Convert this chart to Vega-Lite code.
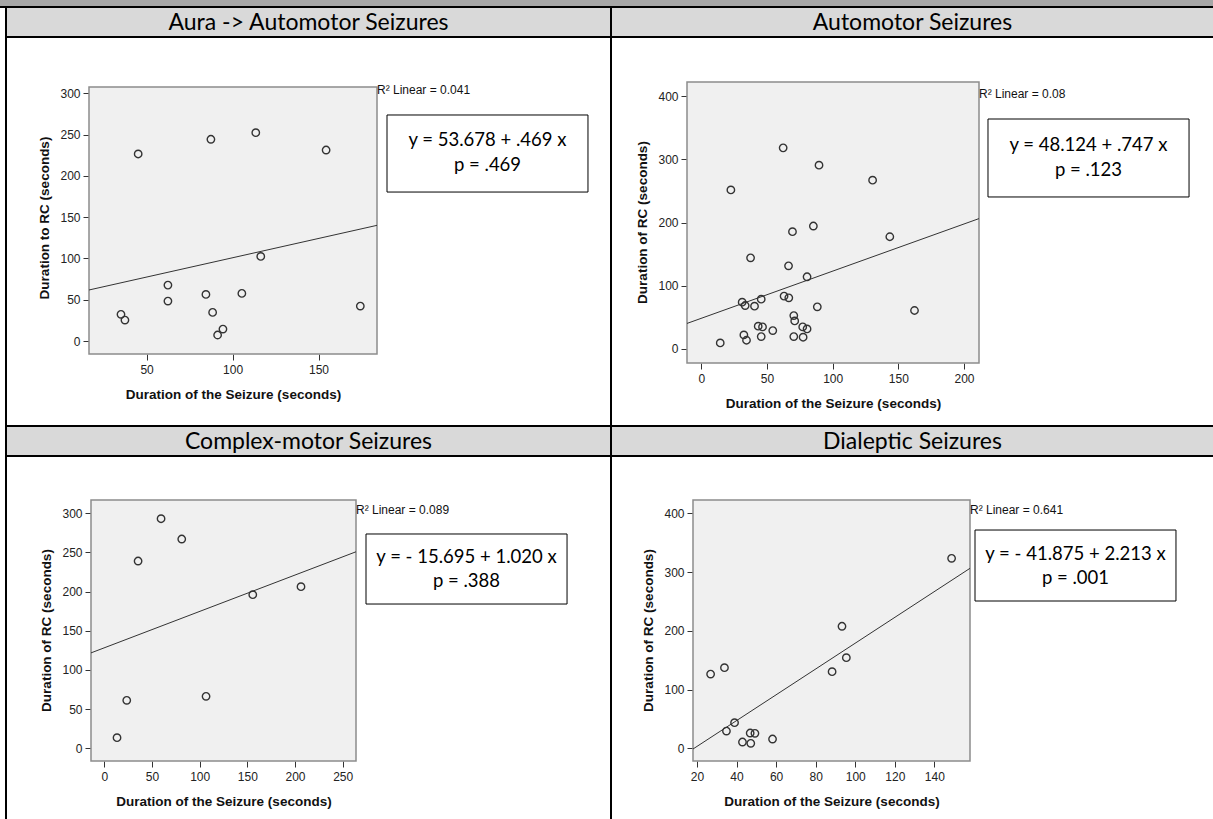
{
  "$schema": "https://vega.github.io/schema/vega-lite/v6.json",
  "padding": 0,
  "background": "white",
  "data": {"values": [{}]},
  "datasets": {
    "p1": [
      {"x": 35.1, "y": 32.3}, {"x": 37.4, "y": 25.4}, {"x": 45.1, "y": 226.5}, {"x": 62.4, "y": 67.7},
      {"x": 62.4, "y": 48.4}, {"x": 84.5, "y": 56.4}, {"x": 87.4, "y": 244.3}, {"x": 88.4, "y": 34.7},
      {"x": 91.3, "y": 7.3}, {"x": 94.4, "y": 14.5}, {"x": 105.4, "y": 57.7}, {"x": 113.5, "y": 252.3},
      {"x": 116.4, "y": 102.4}, {"x": 154.4, "y": 231.3}, {"x": 174.3, "y": 42.3}
    ],
    "p2": [
      {"x": 14.4, "y": 8.9}, {"x": 22.5, "y": 251.7}, {"x": 31.1, "y": 73.6}, {"x": 32.4, "y": 21.6},
      {"x": 33.4, "y": 68.3}, {"x": 34.4, "y": 13.2}, {"x": 37.5, "y": 144}, {"x": 40.5, "y": 67.2},
      {"x": 43.3, "y": 35.5}, {"x": 45.6, "y": 78.4}, {"x": 45.6, "y": 19}, {"x": 46.6, "y": 34.4},
      {"x": 54.4, "y": 28.6}, {"x": 62.3, "y": 318.4}, {"x": 63, "y": 83.2}, {"x": 66.6, "y": 80.5},
      {"x": 66.4, "y": 131.3}, {"x": 69.4, "y": 185.4}, {"x": 70.4, "y": 52.4}, {"x": 71.1, "y": 43.9},
      {"x": 70.4, "y": 19}, {"x": 77.2, "y": 34.4}, {"x": 77.5, "y": 18}, {"x": 80.5, "y": 31.2},
      {"x": 80.5, "y": 113.9}, {"x": 85.3, "y": 194.4}, {"x": 88.3, "y": 66.2}, {"x": 89.6, "y": 290.9},
      {"x": 130.4, "y": 267.1}, {"x": 143.5, "y": 177.4}, {"x": 162.3, "y": 60.4}
    ],
    "p3": [
      {"x": 13.3, "y": 13.6}, {"x": 23.5, "y": 61.3}, {"x": 35.4, "y": 239.1}, {"x": 59.5, "y": 293.1},
      {"x": 81.2, "y": 267.2}, {"x": 106.7, "y": 66.4}, {"x": 155.7, "y": 196.1}, {"x": 206.3, "y": 206.3}
    ],
    "p4": [
      {"x": 26.9, "y": 126.4}, {"x": 33.9, "y": 137.2}, {"x": 34.9, "y": 29.4}, {"x": 39, "y": 43.6},
      {"x": 43, "y": 10.7}, {"x": 46.9, "y": 26}, {"x": 47.2, "y": 8.5}, {"x": 49.3, "y": 25.5},
      {"x": 58.2, "y": 15.8}, {"x": 88.3, "y": 130.4}, {"x": 93.3, "y": 207.7}, {"x": 95.5, "y": 154.2},
      {"x": 148.7, "y": 323.4}
    ]
  },
  "config": {
    "view": {"stroke": null},
    "concat": {"spacing": 0},
    "axis": {"domain": false, "grid": false, "tickColor": "#333333", "tickSize": 6, "labelFlush": false, "labelOverlap": false,
      "labelFont": "Liberation Sans", "labelFontSize": 12, "labelColor": "#222222",
      "titleFont": "Liberation Sans", "titleFontSize": 13.5, "titleFontWeight": "bold", "titleColor": "#111111"},
    "axisX": {"labelPadding": 4, "titlePadding": 12},
    "axisY": {"labelPadding": 3, "titlePadding": 8}
  },
  "spacing": 0,
  "vconcat": [
    {"width": 1213, "height": 6, "view": {"fill": "#a6a6a6"}, "mark": {"type": "point", "size": 0, "opacity": 0}},
    {"width": 1213, "height": 2, "view": {"fill": "black"}, "mark": {"type": "point", "size": 0, "opacity": 0}},
    {"hconcat": [
      {"width": 5, "height": 28, "mark": {"type": "point", "size": 0, "opacity": 0}},
      {"width": 2, "height": 28, "view": {"fill": "black"}, "mark": {"type": "point", "size": 0, "opacity": 0}},
      {"width": 603, "height": 28, "view": {"fill": "#d9d9d9"}, "data": {"values": [{"t": "Aura -> Automotor Seizures"}]},
        "mark": {"type": "text", "font": "Lato", "fontSize": 23, "color": "black", "baseline": "middle", "dy": 1}, "encoding": {"text": {"field": "t"}}},
      {"width": 2, "height": 28, "view": {"fill": "black"}, "mark": {"type": "point", "size": 0, "opacity": 0}},
      {"width": 601, "height": 28, "view": {"fill": "#d9d9d9"}, "data": {"values": [{"t": "Automotor Seizures"}]},
        "mark": {"type": "text", "font": "Lato", "fontSize": 23, "color": "black", "baseline": "middle", "dy": 1}, "encoding": {"text": {"field": "t"}}}
    ], "spacing": 0, "bounds": "flush"},
    {"hconcat": [
      {"width": 5, "height": 2, "mark": {"type": "point", "size": 0, "opacity": 0}},
      {"width": 1208, "height": 2, "view": {"fill": "black"}, "mark": {"type": "point", "size": 0, "opacity": 0}}
    ], "spacing": 0, "bounds": "flush"},
    {"hconcat": [
      {"width": 5, "height": 43, "mark": {"type": "point", "size": 0, "opacity": 0}},
      {"width": 2, "height": 43, "view": {"fill": "black"}, "mark": {"type": "point", "size": 0, "opacity": 0}},
      {"width": 603, "height": 43, "mark": {"type": "point", "size": 0, "opacity": 0}},
      {"width": 2, "height": 43, "view": {"fill": "black"}, "mark": {"type": "point", "size": 0, "opacity": 0}}
    ], "spacing": 0, "bounds": "flush"},
    {"hconcat": [
      {"width": 5, "height": 1, "mark": {"type": "point", "size": 0, "opacity": 0}},
      {"width": 2, "height": 344, "view": {"fill": "black"}, "mark": {"type": "point", "size": 0, "opacity": 0}},
      {"width": 82, "height": 1, "mark": {"type": "point", "size": 0, "opacity": 0}},
      {"width": 288, "height": 273,
        "layer": [
          {"mark": {"type": "rect", "fill": "#f0f0f0", "stroke": "#8c8c8c", "strokeWidth": 1.5},
            "encoding": {"x": {"datum": 16.5}, "x2": {"datum": 184}, "y": {"datum": -15.7}, "y2": {"datum": 307.6}}},
          {"data": {"name": "p1"},
            "mark": {"type": "point", "shape": "circle", "filled": false, "size": 55, "color": "#333333", "strokeWidth": 1.4, "opacity": 1},
            "encoding": {
              "x": {"field": "x", "type": "quantitative", "title": "Duration of the Seizure (seconds)", "scale": {"domain": [16.5, 184], "nice": false, "zero": false}, "axis": {"values": [50, 100, 150]}},
              "y": {"field": "y", "type": "quantitative", "title": "Duration to RC (seconds)", "scale": {"domain": [-15.7, 314.86], "nice": false, "zero": false}, "axis": {"values": [0, 50, 100, 150, 200, 250, 300]}}}},
          {"data": {"name": "p1"},
            "transform": [{"regression": "y", "on": "x", "extent": [16.5, 184]}],
            "mark": {"type": "line", "color": "#333333", "strokeWidth": 1},
            "encoding": {
              "x": {"field": "x", "type": "quantitative", "title": "Duration of the Seizure (seconds)"},
              "y": {"field": "y", "type": "quantitative", "title": "Duration to RC (seconds)"}}},
          {"data": {"values": [{"label": "R² Linear = 0.041"}]},
            "mark": {"type": "text", "align": "left", "baseline": "middle", "font": "Liberation Sans", "fontSize": 12, "color": "#111111"},
            "encoding": {"x": {"datum": 184}, "y": {"datum": 304}, "text": {"field": "label"}}},
          {"mark": {"type": "rect", "fill": "white", "stroke": "black", "strokeWidth": 1},
            "encoding": {"x": {"datum": 189.82}, "x2": {"datum": 306.7}, "y": {"datum": 180.4}, "y2": {"datum": 273.7}}},
          {"data": {"values": [{"t": "y = 53.678 + .469 x\np = .469"}]},
            "mark": {"type": "text", "font": "Lato", "fontSize": 18.5, "lineBreak": "\n", "lineHeight": 25, "baseline": "middle", "align": "center", "color": "black", "dy": -13},
            "encoding": {"x": {"datum": 248.27}, "y": {"datum": 227.1}, "text": {"field": "t"}}}
        ]},
      {"width": 233, "height": 1, "mark": {"type": "point", "size": 0, "opacity": 0}},
      {"width": 2, "height": 344, "view": {"fill": "black"}, "mark": {"type": "point", "size": 0, "opacity": 0}},
      {"width": 75, "height": 1, "mark": {"type": "point", "size": 0, "opacity": 0}},
      {"width": 292, "height": 282,
        "layer": [
          {"mark": {"type": "rect", "fill": "#f0f0f0", "stroke": "#8c8c8c", "strokeWidth": 1.5},
            "encoding": {"x": {"datum": -10.9}, "x2": {"datum": 211.4}, "y": {"datum": -22.9}, "y2": {"datum": 422.9}}},
          {"data": {"name": "p2"},
            "mark": {"type": "point", "shape": "circle", "filled": false, "size": 55, "color": "#333333", "strokeWidth": 1.4, "opacity": 1},
            "encoding": {
              "x": {"field": "x", "type": "quantitative", "title": "Duration of the Seizure (seconds)", "scale": {"domain": [-10.9, 211.4], "nice": false, "zero": false}, "axis": {"values": [0, 50, 100, 150, 200]}},
              "y": {"field": "y", "type": "quantitative", "title": "Duration of RC (seconds)", "scale": {"domain": [-22.9, 424.49], "nice": false, "zero": false}, "axis": {"values": [0, 100, 200, 300, 400]}}}},
          {"data": {"name": "p2"},
            "transform": [{"regression": "y", "on": "x", "extent": [-10.9, 211.4]}],
            "mark": {"type": "line", "color": "#333333", "strokeWidth": 1},
            "encoding": {
              "x": {"field": "x", "type": "quantitative", "title": "Duration of the Seizure (seconds)"},
              "y": {"field": "y", "type": "quantitative", "title": "Duration of RC (seconds)"}}},
          {"data": {"values": [{"label": "R² Linear = 0.08"}]},
            "mark": {"type": "text", "align": "left", "baseline": "middle", "font": "Liberation Sans", "fontSize": 12, "color": "#111111"},
            "encoding": {"x": {"datum": 211.4}, "y": {"datum": 403.9}, "text": {"field": "label"}}},
          {"mark": {"type": "rect", "fill": "white", "stroke": "black", "strokeWidth": 1},
            "encoding": {"x": {"datum": 218.25}, "x2": {"datum": 371.3}, "y": {"datum": 240.5}, "y2": {"datum": 364.2}}},
          {"data": {"values": [{"t": "y = 48.124 + .747 x\np = .123"}]},
            "mark": {"type": "text", "font": "Lato", "fontSize": 18.5, "lineBreak": "\n", "lineHeight": 25, "baseline": "middle", "align": "center", "color": "black", "dy": -13},
            "encoding": {"x": {"datum": 294.76}, "y": {"datum": 302.3}, "text": {"field": "t"}}}
        ]}
    ], "spacing": 0, "bounds": "flush"},
    {"hconcat": [
      {"width": 5, "height": 2, "mark": {"type": "point", "size": 0, "opacity": 0}},
      {"width": 1208, "height": 2, "view": {"fill": "black"}, "mark": {"type": "point", "size": 0, "opacity": 0}}
    ], "spacing": 0, "bounds": "flush"},
    {"hconcat": [
      {"width": 5, "height": 28, "mark": {"type": "point", "size": 0, "opacity": 0}},
      {"width": 2, "height": 28, "view": {"fill": "black"}, "mark": {"type": "point", "size": 0, "opacity": 0}},
      {"width": 603, "height": 28, "view": {"fill": "#d9d9d9"}, "data": {"values": [{"t": "Complex-motor Seizures"}]},
        "mark": {"type": "text", "font": "Lato", "fontSize": 23, "color": "black", "baseline": "middle", "dy": 1}, "encoding": {"text": {"field": "t"}}},
      {"width": 2, "height": 28, "view": {"fill": "black"}, "mark": {"type": "point", "size": 0, "opacity": 0}},
      {"width": 601, "height": 28, "view": {"fill": "#d9d9d9"}, "data": {"values": [{"t": "Dialeptic Seizures"}]},
        "mark": {"type": "text", "font": "Lato", "fontSize": 23, "color": "black", "baseline": "middle", "dy": 1}, "encoding": {"text": {"field": "t"}}}
    ], "spacing": 0, "bounds": "flush"},
    {"hconcat": [
      {"width": 5, "height": 2, "mark": {"type": "point", "size": 0, "opacity": 0}},
      {"width": 1208, "height": 2, "view": {"fill": "black"}, "mark": {"type": "point", "size": 0, "opacity": 0}}
    ], "spacing": 0, "bounds": "flush"},
    {"hconcat": [
      {"width": 5, "height": 42, "mark": {"type": "point", "size": 0, "opacity": 0}},
      {"width": 2, "height": 42, "view": {"fill": "black"}, "mark": {"type": "point", "size": 0, "opacity": 0}},
      {"width": 603, "height": 42, "mark": {"type": "point", "size": 0, "opacity": 0}},
      {"width": 2, "height": 42, "view": {"fill": "black"}, "mark": {"type": "point", "size": 0, "opacity": 0}}
    ], "spacing": 0, "bounds": "flush"},
    {"hconcat": [
      {"width": 5, "height": 1, "mark": {"type": "point", "size": 0, "opacity": 0}},
      {"width": 2, "height": 320, "view": {"fill": "black"}, "mark": {"type": "point", "size": 0, "opacity": 0}},
      {"width": 84, "height": 1, "mark": {"type": "point", "size": 0, "opacity": 0}},
      {"width": 265, "height": 262,
        "layer": [
          {"mark": {"type": "rect", "fill": "#f0f0f0", "stroke": "#8c8c8c", "strokeWidth": 1.5},
            "encoding": {"x": {"datum": -14}, "x2": {"datum": 264}, "y": {"datum": -16.2}, "y2": {"datum": 317}}},
          {"data": {"name": "p3"},
            "mark": {"type": "point", "shape": "circle", "filled": false, "size": 55, "color": "#333333", "strokeWidth": 1.4, "opacity": 1},
            "encoding": {
              "x": {"field": "x", "type": "quantitative", "title": "Duration of the Seizure (seconds)", "scale": {"domain": [-14, 264], "nice": false, "zero": false}, "axis": {"values": [0, 50, 100, 150, 200, 250]}},
              "y": {"field": "y", "type": "quantitative", "title": "Duration of RC (seconds)", "scale": {"domain": [-16.2, 318.28], "nice": false, "zero": false}, "axis": {"values": [0, 50, 100, 150, 200, 250, 300]}}}},
          {"data": {"name": "p3"},
            "transform": [{"regression": "y", "on": "x", "extent": [-14, 264]}],
            "mark": {"type": "line", "color": "#333333", "strokeWidth": 1},
            "encoding": {
              "x": {"field": "x", "type": "quantitative", "title": "Duration of the Seizure (seconds)"},
              "y": {"field": "y", "type": "quantitative", "title": "Duration of RC (seconds)"}}},
          {"data": {"values": [{"label": "R² Linear = 0.089"}]},
            "mark": {"type": "text", "align": "left", "baseline": "middle", "font": "Liberation Sans", "fontSize": 12, "color": "#111111"},
            "encoding": {"x": {"datum": 264}, "y": {"datum": 304.2}, "text": {"field": "label"}}},
          {"mark": {"type": "rect", "fill": "white", "stroke": "black", "strokeWidth": 1},
            "encoding": {"x": {"datum": 274.5}, "x2": {"datum": 485.4}, "y": {"datum": 184.2}, "y2": {"datum": 273.6}}},
          {"data": {"values": [{"t": "y = - 15.695 + 1.020 x\np = .388"}]},
            "mark": {"type": "text", "font": "Lato", "fontSize": 18.5, "lineBreak": "\n", "lineHeight": 24, "baseline": "middle", "align": "center", "color": "black", "dy": -12},
            "encoding": {"x": {"datum": 379.9}, "y": {"datum": 228.9}, "text": {"field": "t"}}}
        ]},
      {"width": 254, "height": 1, "mark": {"type": "point", "size": 0, "opacity": 0}},
      {"width": 2, "height": 320, "view": {"fill": "black"}, "mark": {"type": "point", "size": 0, "opacity": 0}},
      {"width": 81, "height": 1, "mark": {"type": "point", "size": 0, "opacity": 0}},
      {"width": 277, "height": 262,
        "layer": [
          {"mark": {"type": "rect", "fill": "#f0f0f0", "stroke": "#8c8c8c", "strokeWidth": 1.5},
            "encoding": {"x": {"datum": 18}, "x2": {"datum": 158}, "y": {"datum": -21.6}, "y2": {"datum": 422.6}}},
          {"data": {"name": "p4"},
            "mark": {"type": "point", "shape": "circle", "filled": false, "size": 55, "color": "#333333", "strokeWidth": 1.4, "opacity": 1},
            "encoding": {
              "x": {"field": "x", "type": "quantitative", "title": "Duration of the Seizure (seconds)", "scale": {"domain": [18, 158], "nice": false, "zero": false}, "axis": {"values": [20, 40, 60, 80, 100, 120, 140]}},
              "y": {"field": "y", "type": "quantitative", "title": "Duration of RC (seconds)", "scale": {"domain": [-21.6, 424.3], "nice": false, "zero": false}, "axis": {"values": [0, 100, 200, 300, 400]}}}},
          {"data": {"name": "p4"},
            "transform": [{"regression": "y", "on": "x", "extent": [18, 158]}],
            "mark": {"type": "line", "color": "#333333", "strokeWidth": 1},
            "encoding": {
              "x": {"field": "x", "type": "quantitative", "title": "Duration of the Seizure (seconds)"},
              "y": {"field": "y", "type": "quantitative", "title": "Duration of RC (seconds)"}}},
          {"data": {"values": [{"label": "R² Linear = 0.641"}]},
            "mark": {"type": "text", "align": "left", "baseline": "middle", "font": "Liberation Sans", "fontSize": 12, "color": "#111111"},
            "encoding": {"x": {"datum": 158}, "y": {"datum": 405.6}, "text": {"field": "label"}}},
          {"mark": {"type": "rect", "fill": "white", "stroke": "black", "strokeWidth": 1},
            "encoding": {"x": {"datum": 160.53}, "x2": {"datum": 262.1}, "y": {"datum": 250.7}, "y2": {"datum": 371.5}}},
          {"data": {"values": [{"t": "y = - 41.875 + 2.213 x\np = .001"}]},
            "mark": {"type": "text", "font": "Lato", "fontSize": 18.5, "lineBreak": "\n", "lineHeight": 24, "baseline": "middle", "align": "center", "color": "black", "dy": -12},
            "encoding": {"x": {"datum": 211.3}, "y": {"datum": 311.1}, "text": {"field": "t"}}}
        ]}
    ], "spacing": 0, "bounds": "flush"}
  ]
}
